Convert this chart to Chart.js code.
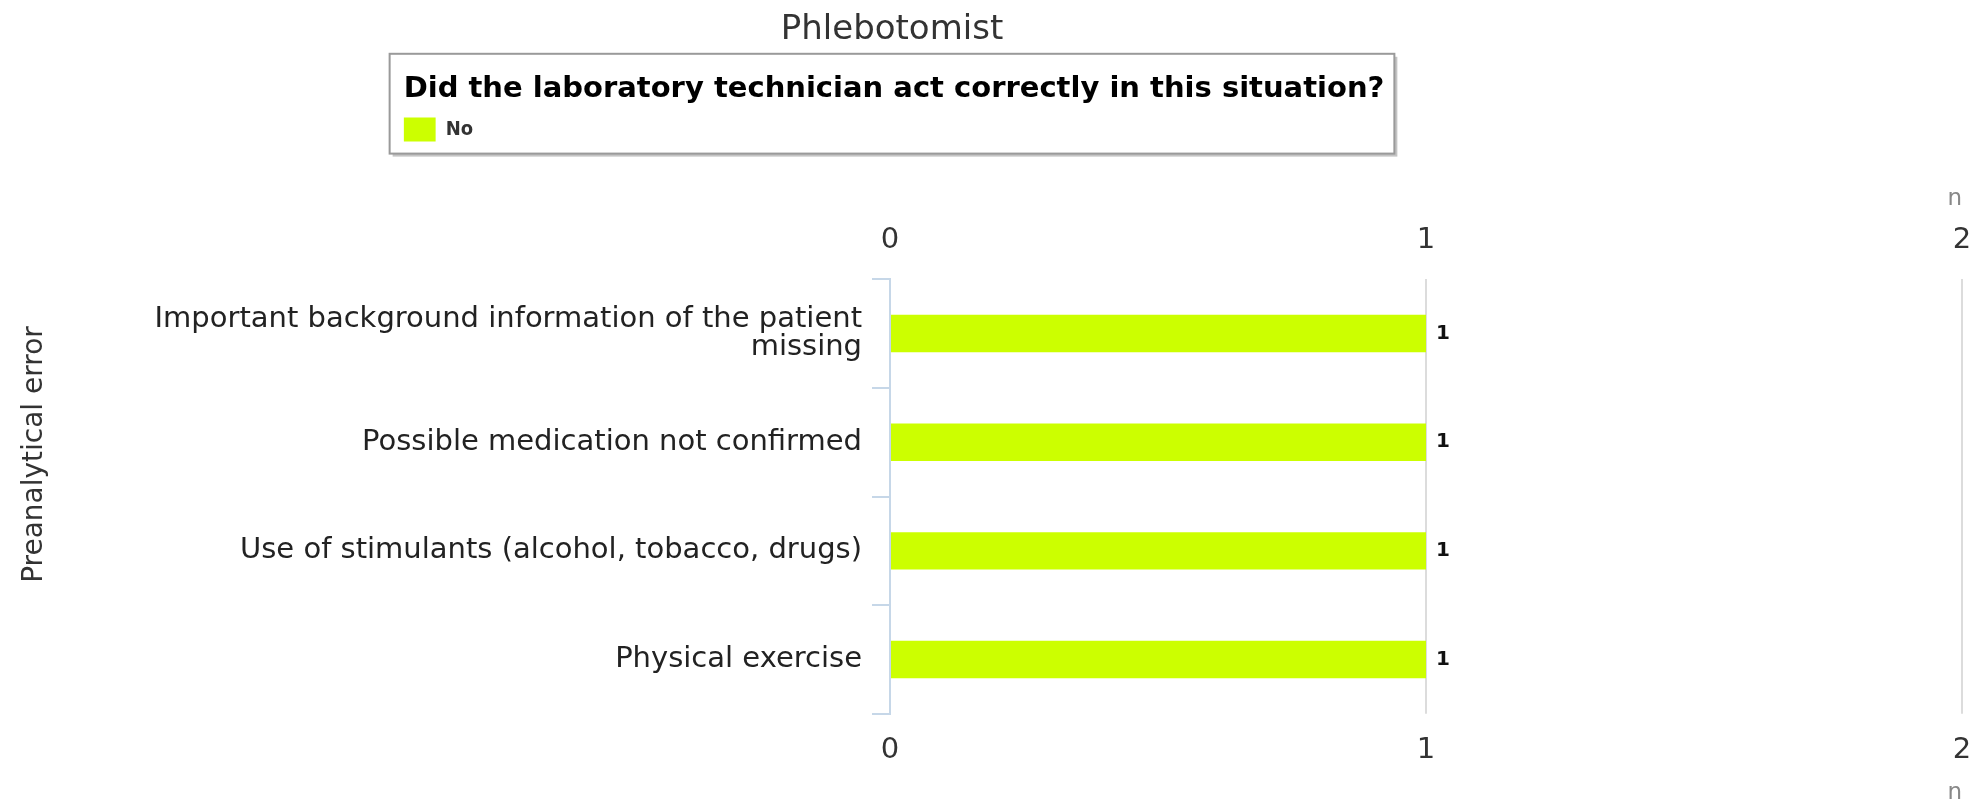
<!DOCTYPE html>
<html>
<head>
<meta charset="utf-8">
<title>Phlebotomist</title>
<script src="https://cdn.jsdelivr.net/npm/chart.js@4.4.1/dist/chart.umd.min.js"></script>
<style>
  html, body { margin: 0; padding: 0; background: #fff; }
  #wrap { position: relative; width: 1977px; height: 811px; }
</style>
</head>
<body>
<div id="wrap"><canvas id="chart"></canvas></div>
<script>
const chartTitle = "Phlebotomist";
const legendTitle = "Did the laboratory technician act correctly in this situation?";
const seriesName = "No";
const categories = [
  ["Important background information of the patient", "missing"],
  "Possible medication not confirmed",
  "Use of stimulants (alcohol, tobacco, drugs)",
  "Physical exercise",
];
const noCounts = [1, 1, 1, 1];
const axisTicks = [0, 1, 2];
const valueAxisTitle = "n";
const categoryAxisTitle = "Preanalytical error";

const barColor = "#ccff00";
const axisBlue = "#c6d7e8";
const gridGrey = "#dcdcdc";
const legendTitleFont = { family: "'DejaVu Sans'", size: 29, weight: "bold" };

Chart.defaults.font.family = "'DejaVu Sans', sans-serif";
Chart.defaults.color = "#333";

function setTicks(scale) {
  scale.ticks = axisTicks.map((v) => ({ value: v }));
}

// centres the title and the boxed legend over the category axis, and draws the box
const legendFrame = {
  id: "legendFrame",
  afterLayout(chart) {
    const center = chart.scales.y.right + 2;
    const t = chart.titleBlock;
    const dt = center - (t.left + t.right) / 2;
    t.left += dt;
    t.right += dt;

    const ctx = chart.ctx;
    ctx.save();
    ctx.font = `${legendTitleFont.weight} ${legendTitleFont.size}px ${legendTitleFont.family}`;
    const textW = ctx.measureText(legendTitle).width;
    ctx.restore();

    const padX = 12;
    const boxW = textW + padX * 2;
    const boxLeft = center - boxW / 2;
    const lg = chart.legend;
    const dl = boxLeft + padX + 2 - lg.left;
    lg.left += dl;
    lg.right += dl;
    chart.$frame = { x: boxLeft, y: lg.top + 3, w: boxW, h: lg.height - 1 };
  },
  beforeDraw(chart) {
    const f = chart.$frame;
    if (!f) return;
    const ctx = chart.ctx;
    ctx.save();
    ctx.fillStyle = "#c4c4c4";
    ctx.fillRect(f.x + 3, f.y + 3, f.w, f.h);
    ctx.fillStyle = "#fff";
    ctx.fillRect(f.x, f.y, f.w, f.h);
    ctx.strokeStyle = "#9a9a9a";
    ctx.lineWidth = 2;
    ctx.strokeRect(f.x, f.y, f.w, f.h);
    ctx.restore();
  },
};

// rotated category axis title, sitting a little above the middle like the original
const categoryTitle = {
  id: "categoryTitle",
  afterDraw(chart) {
    const area = chart.chartArea;
    const ctx = chart.ctx;
    ctx.save();
    ctx.translate(35, (area.top + area.bottom) / 2 - 42);
    ctx.rotate(-Math.PI / 2);
    ctx.font = "28px 'DejaVu Sans'";
    ctx.fillStyle = "#333";
    ctx.textAlign = "center";
    ctx.textBaseline = "middle";
    ctx.fillText(categoryAxisTitle, 0, 0);
    ctx.restore();
  },
};

const valueLabels = {
  id: "valueLabels",
  afterDatasetsDraw(chart) {
    const ctx = chart.ctx;
    ctx.save();
    ctx.font = "bold 20px 'DejaVu Sans'";
    ctx.fillStyle = "#111";
    ctx.textAlign = "left";
    ctx.textBaseline = "middle";
    chart.getDatasetMeta(0).data.forEach((bar, i) => {
      ctx.fillText(String(noCounts[i]), bar.x + 10, bar.y);
    });
    ctx.restore();
  },
};

new Chart(document.getElementById("chart"), {
  type: "bar",
  data: {
    labels: categories,
    datasets: [
      {
        label: seriesName,
        data: noCounts,
        backgroundColor: barColor,
        borderWidth: 0,
        categoryPercentage: 1,
        barPercentage: 0.344,
      },
    ],
  },
  options: {
    indexAxis: "y",
    responsive: true,
    maintainAspectRatio: false,
    animation: false,
    layout: { padding: { left: 0, right: 15, top: 0, bottom: 0 } },
    plugins: {
      title: {
        display: true,
        text: chartTitle,
        color: "#333",
        font: { size: 34, weight: "normal" },
        padding: { top: 10, bottom: 0 },
      },
      legend: {
        display: true,
        position: "top",
        align: "start",
        title: {
          display: true,
          text: legendTitle,
          position: "start",
          color: "#000",
          font: legendTitleFont,
          padding: { top: 24, bottom: 8 },
        },
        labels: {
          boxWidth: 32,
          boxHeight: 24,
          padding: 0,
          color: "#333",
          font: { family: "'DejaVu Sans Condensed', 'DejaVu Sans'", size: 20, weight: "bold" },
        },
      },
      tooltip: { enabled: false },
    },
    scales: {
      x: {
        position: "top",
        min: 0,
        max: 2,
        afterBuildTicks: setTicks,
        grid: {
          drawTicks: false,
          lineWidth: 2,
          color: (c) => (c.tick && c.tick.value === 0 ? "rgba(0,0,0,0)" : gridGrey),
        },
        border: { display: false },
        ticks: { padding: 0, color: "#333", font: { size: 29, lineHeight: 2.69 } },
        title: {
          display: true,
          text: valueAxisTitle,
          align: "end",
          color: "#888",
          font: { size: 23 },
          padding: { top: 34, bottom: -12 },
        },
      },
      x2: {
        position: "bottom",
        axis: "x",
        min: 0,
        max: 2,
        afterBuildTicks: setTicks,
        grid: { display: false, drawTicks: false },
        border: { display: false },
        ticks: { padding: 0, color: "#333", font: { size: 29, lineHeight: 2.52 } },
        title: {
          display: true,
          text: valueAxisTitle,
          align: "end",
          color: "#888",
          font: { size: 23 },
          padding: { top: -8, bottom: 4.5 },
        },
      },
      y: {
        position: "left",
        afterFit: (scale) => {
          scale.width = 890;
        },
        grid: {
          offset: true,
          drawOnChartArea: false,
          drawTicks: true,
          tickLength: 18,
          lineWidth: 2,
          color: axisBlue,
        },
        border: { display: true, color: axisBlue, width: 2 },
        ticks: {
          padding: 10,
          color: "#222",
          font: { size: 29, lineHeight: 0.95 },
        },
        title: { display: false },
      },
    },
  },
  plugins: [legendFrame, categoryTitle, valueLabels],
});
</script>
</body>
</html>
